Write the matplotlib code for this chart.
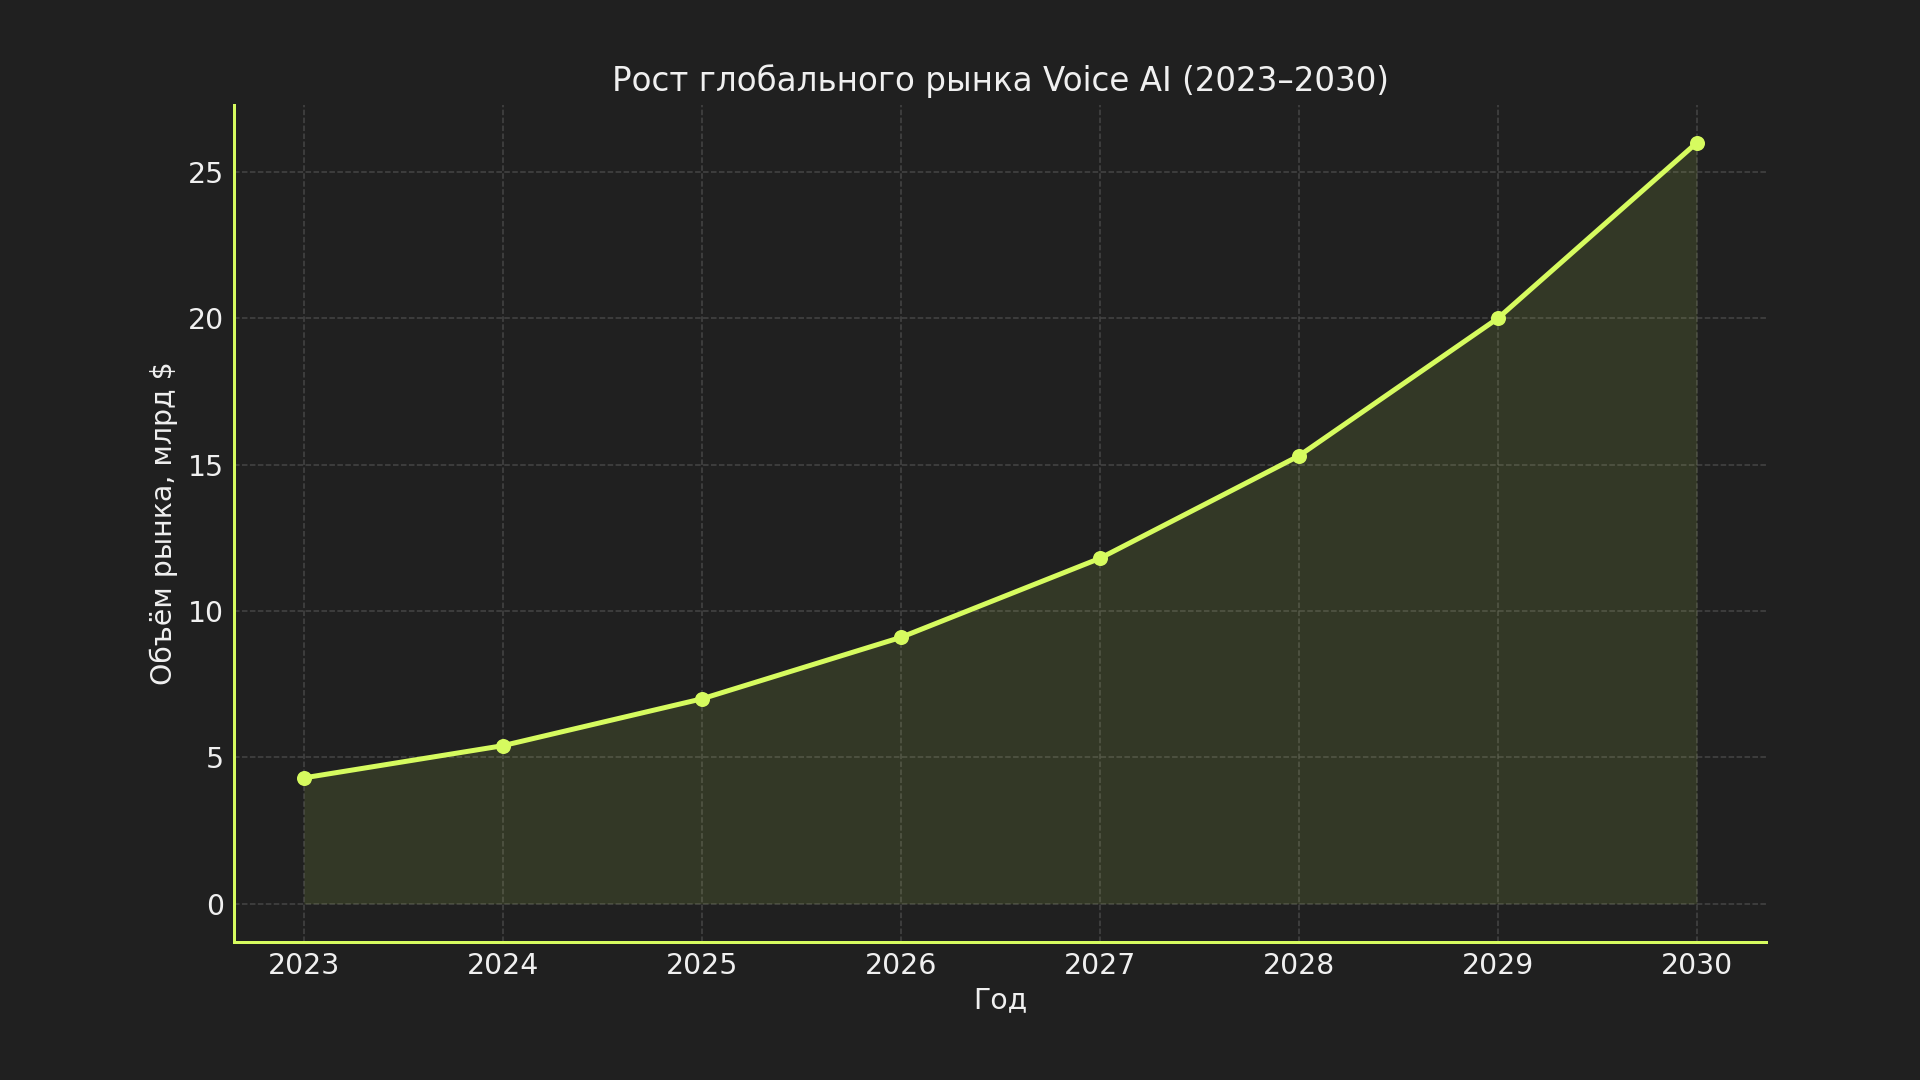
import numpy as np
import matplotlib.pyplot as plt

years = [2023, 2024, 2025, 2026, 2027, 2028, 2029, 2030]
market = [4.3, 5.4, 7.0, 9.1, 11.8, 15.3, 20.0, 26.0]

bg = '#202020'
lime = '#d6fb5f'
txt = '#f0f0f0'

fig, ax = plt.subplots(figsize=(16, 9), dpi=120)
fig.patch.set_facecolor(bg)
ax.set_facecolor(bg)

ax.plot(years, market, color=lime, lw=3, marker='o', ms=8, zorder=3)
ax.fill_between(years, market, 0, color=lime, alpha=0.11, lw=0)

ax.set_title('Рост глобального рынка Voice AI (2023–2030)', color=txt, fontsize=19.5, pad=8)
ax.set_xlabel('Год', color=txt, fontsize=17, labelpad=4)
ax.set_ylabel('Объём рынка, млрд $', color=txt, fontsize=17, labelpad=6)
ax.set_xticks(years)
ax.tick_params(colors=txt, labelsize=17, length=0, pad=6)

ax.grid(True, ls='--', color='#555555', alpha=0.7, lw=0.9)
ax.set_axisbelow(True)
for s in ['top', 'right']:
    ax.spines[s].set_visible(False)
for s in ['left', 'bottom']:
    ax.spines[s].set_color(lime)
    ax.spines[s].set_linewidth(1.8)

plt.subplots_adjust(left=0.122, right=0.92, top=0.903, bottom=0.128)
plt.savefig('out.png', facecolor=bg)
